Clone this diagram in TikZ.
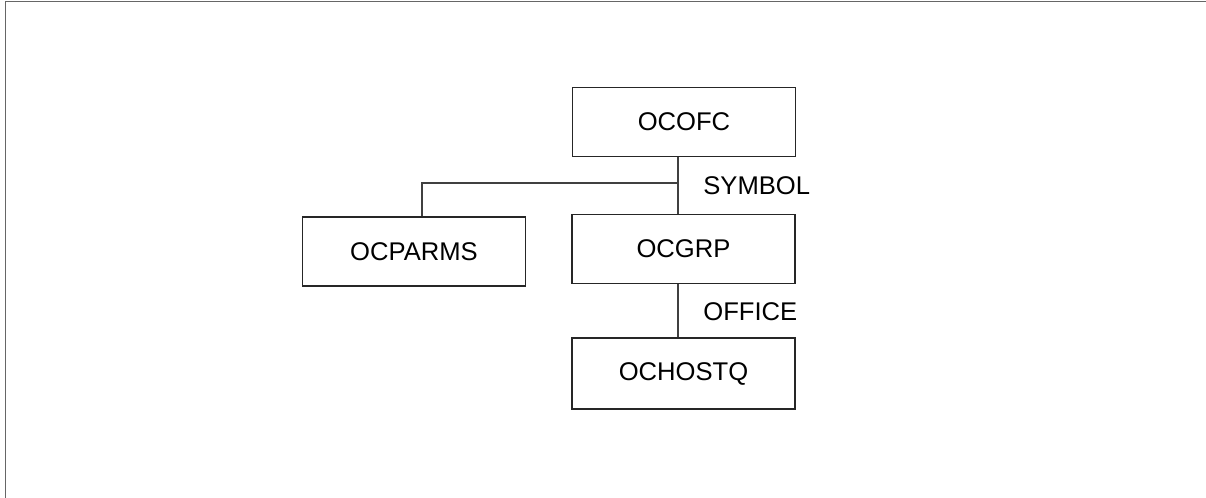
\documentclass[tikz,border=0pt]{standalone}
\usepackage{fontspec}
\setmainfont{Liberation Sans}
\begin{document}
\begin{tikzpicture}[x=0.5pt,y=-0.5pt,
  box/.style={draw=black!85, line width=0.55pt, minimum width=111.5pt, minimum height=34.5pt, inner sep=0pt, font=\fontsize{12.8pt}{15pt}\selectfont},
  lbl/.style={anchor=west, inner sep=0pt, font=\fontsize{12.8pt}{15pt}\selectfont},
  conn/.style={draw=black!75, line width=0.55pt}]
\useasboundingbox (0,0) rectangle (1206,498);
\coordinate (fa) at (5.5,498);
\coordinate (fb) at (5.5,1.5);
\coordinate (fc) at (1206,1.5);
\draw[black!60, line width=0.8pt] (fa) -- (fb) -- (fc);
\node[box] (ocofc) at (684,122) {OCOFC};
\node[box] (ocgrp) at (683.5,249) {OCGRP};
\node[box, minimum height=34.5pt] (ocparms) at (414,251.5) {OCPARMS};
\node[box, minimum height=35.5pt] (ochostq) at (683.5,373.5) {OCHOSTQ};
\coordinate (j1) at (678,183);
\coordinate (j2) at (422,183);
\draw[conn] (ocofc.south -| j1) -- (ocgrp.north -| j1);
\draw[conn] (j1) -- (j2) -- (ocparms.north -| j2);
\draw[conn] (ocgrp.south -| j1) -- (ochostq.north -| j1);
\node[lbl] (sym) at (703,186) {SYMBOL};
\node[lbl] (off) at (703,312) {OFFICE};
\end{tikzpicture}
\end{document}
